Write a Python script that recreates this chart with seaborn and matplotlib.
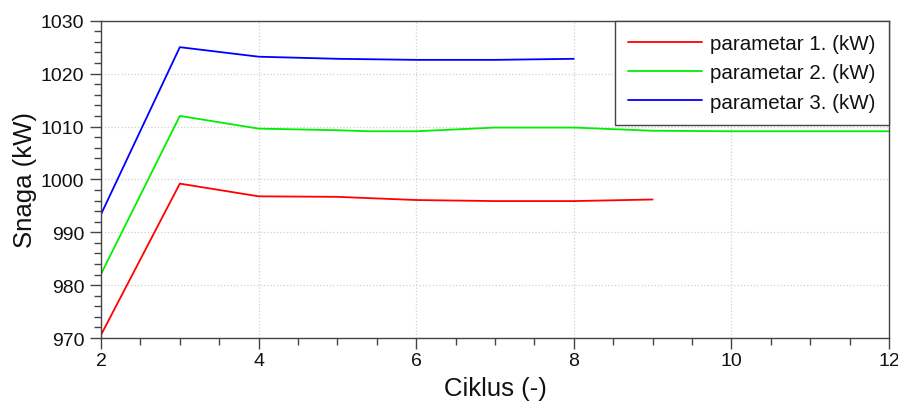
import matplotlib
matplotlib.use("Agg")
import matplotlib.pyplot as plt
from matplotlib.ticker import MultipleLocator
import seaborn as sns
import pandas as pd

ciklus_1 = [2, 3, 4, 5, 6, 7, 8, 9]
param_1 = [970.6, 999.2, 996.8, 996.7, 996.1, 995.9, 995.9, 996.2]
ciklus_2 = [2, 3, 4, 5, 5.4, 6, 7, 8, 9, 10, 11, 12]
param_2 = [982.1, 1012.0, 1009.6, 1009.3, 1009.1, 1009.1, 1009.8, 1009.8, 1009.2, 1009.1, 1009.1, 1009.1]
ciklus_3 = [2, 3, 4, 5, 6, 7, 8]
param_3 = [993.4, 1025.0, 1023.2, 1022.8, 1022.6, 1022.6, 1022.8]
labels = ["parametar 1. (kW)", "parametar 2. (kW)", "parametar 3. (kW)"]
colors = ["#ff0000", "#00ee00", "#0000ff"]

frames = []
for xs, ys, lab in zip([ciklus_1, ciklus_2, ciklus_3], [param_1, param_2, param_3], labels):
    frames.append(pd.DataFrame({"Ciklus": xs, "Snaga": ys, "serija": lab}))
df = pd.concat(frames, ignore_index=True)

sns.set_style("white")
plt.rcParams['font.family'] = ['Liberation Sans', 'DejaVu Sans']
plt.rcParams['text.color'] = '#111111'
plt.rcParams['axes.labelcolor'] = '#111111'
plt.rcParams['xtick.labelcolor'] = '#111111'
plt.rcParams['ytick.labelcolor'] = '#111111'

fig = plt.figure(figsize=(8.98, 4.10), dpi=100)
ax = fig.add_axes([0.1125, 0.173, 0.8775, 0.774])

sns.lineplot(data=df, x="Ciklus", y="Snaga", hue="serija", palette=colors,
             hue_order=labels, ax=ax, linewidth=1.3, estimator=None, sort=False)

ax.set_xlim(2, 12)
ax.set_ylim(970, 1030)
ax.xaxis.set_major_locator(MultipleLocator(2))
ax.xaxis.set_minor_locator(MultipleLocator(0.5))
ax.yaxis.set_major_locator(MultipleLocator(10))
ax.yaxis.set_minor_locator(MultipleLocator(2))
ax.tick_params(which="major", direction="out", length=8, width=1, color="#444444",
               labelsize=14, left=True, bottom=True, pad=4, labelcolor="#111111")
ax.tick_params(axis="x", which="major", pad=2)
ax.tick_params(which="minor", direction="out", length=5, width=1, color="#444444",
               left=True, bottom=True)
ax.grid(True, which="major", linestyle=":", color="#d0d0d0", linewidth=0.9)
for s in ax.spines.values():
    s.set_color("#444444")
    s.set_linewidth(1)

ax.set_xlabel("Ciklus (-)", fontsize=18.5, labelpad=5, color="#111111")
ax.set_ylabel("Snaga (kW)", fontsize=18.5, labelpad=3, color="#111111")

leg = ax.legend(loc="upper right", fontsize=14.8, frameon=True, fancybox=False,
                borderaxespad=0, handlelength=3.6, handletextpad=0.4,
                borderpad=0.65, labelspacing=0.5)
leg.get_frame().set_edgecolor("#444444")
leg.get_frame().set_linewidth(1)
leg.get_frame().set_alpha(1)
leg.set_title(None)
for t in leg.get_texts():
    t.set_color("#111111")

fig.savefig("out.png", dpi=100)
